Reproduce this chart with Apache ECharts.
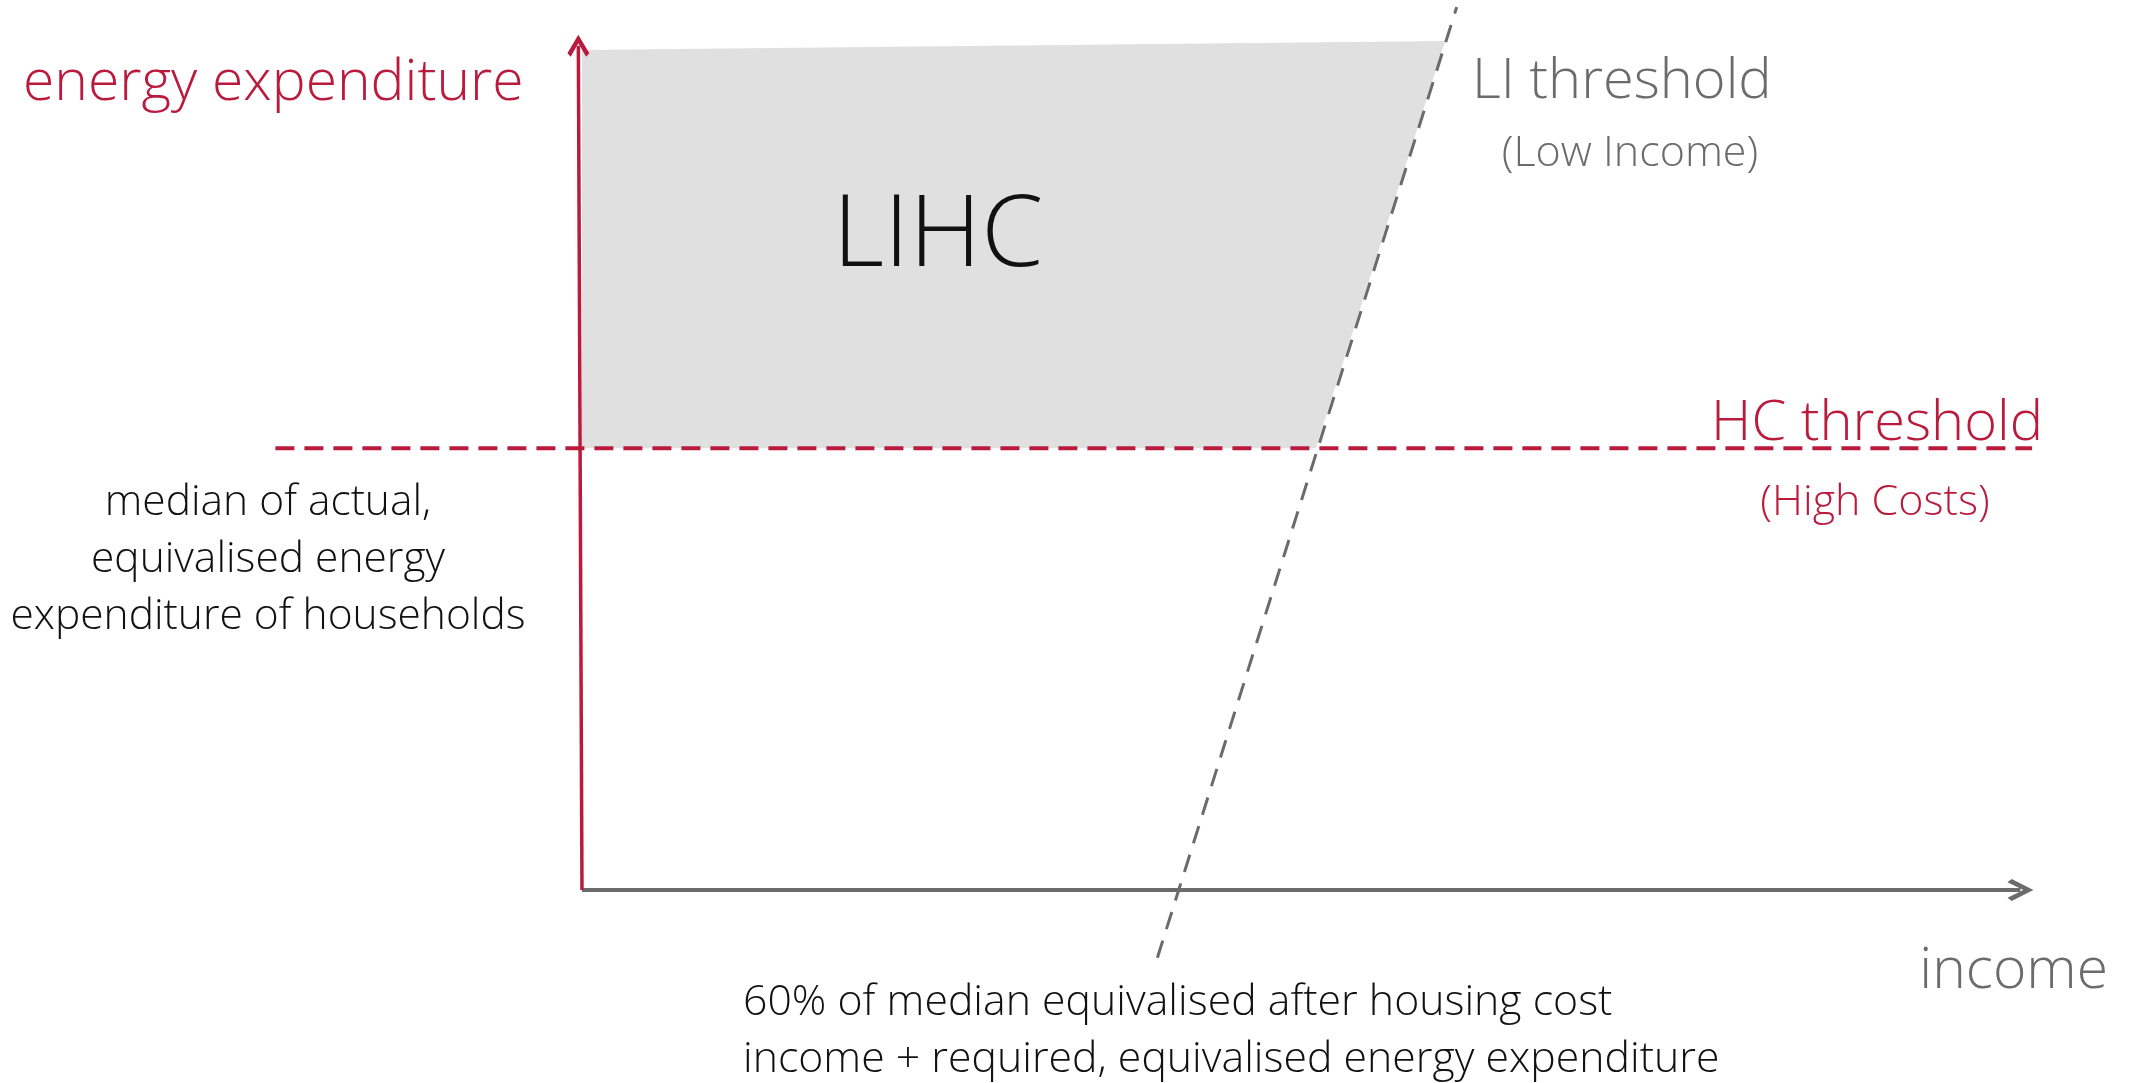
<!DOCTYPE html>
<html>
<head>
<meta charset="utf-8">
<script src="https://cdn.jsdelivr.net/npm/echarts@6/dist/echarts.min.js"></script>
<style>
  html, body { margin: 0; padding: 0; background: #fff; }
  #chart { width: 2131px; height: 1083px; }
</style>
</head>
<body>
<div id="chart"></div>
<script>
// axis ranges (schematic units, x = 0 is the expenditure axis)
const xRange = [-21.1, 100]
const yRange = [0, 100]

// drawn axes (end points sit at the centre of the arrow head)
const incomeAxis = [[0, 0], [99.0, 0]]
const expenditureAxis = [[0, 0], [-0.25, 98.4]]

// LIHC shaded region (income, energy expenditure)
const lihcArea = [[0, 97.9], [59.4, 98.95], [50.5, 51.5], [0, 51.5]]
// HC threshold: median of actual equivalised energy expenditure
const hcThreshold = [[-21.1, 51.5], [99.8, 51.5]]
// LI threshold line
const liThreshold = [[39.6, -7.9], [60.2, 102.9]]

const RED = '#BA1B3D'
const GREY = '#6b6b6b'
const FONT = '"Open Sans", "Noto Sans", sans-serif'

// open chevron pointing up, rotated by echarts along the line
const chevron = 'path://M5,0L10,8.4L8.5,10L5,3.9L1.5,10L0,8.4Z'

const chart = echarts.init(document.getElementById('chart'))

const txt = (text, x, y, size, color, align, extra) => ({
  type: 'text',
  x,
  y,
  z: 20,
  style: Object.assign({
    text,
    fill: color,
    fontSize: size,
    fontFamily: FONT,
    fontWeight: 300,
    align: align || 'left',
    verticalAlign: 'middle',
  }, extra || {}),
})

const axisSeries = (name, pts, color, width, size) => ({
  name,
  type: 'line',
  z: 10,
  clip: false,
  data: [],
  markLine: {
    silent: true,
    animation: false,
    symbol: ['none', chevron],
    symbolSize: size,
    label: { show: false },
    lineStyle: { color, width, type: 'solid', opacity: 1 },
    emphasis: { disabled: true },
    data: [[{ coord: pts[0] }, { coord: pts[1] }]],
  },
})

const hiddenAxis = {
  type: 'value',
  axisLine: { show: false },
  axisTick: { show: false },
  axisLabel: { show: false },
  splitLine: { show: false },
}

chart.setOption({
  animation: false,
  grid: { left: 275.4, right: 96, top: 32, bottom: 193 },
  xAxis: Object.assign({ min: xRange[0], max: xRange[1] }, hiddenAxis),
  yAxis: Object.assign({ min: yRange[0], max: yRange[1] }, hiddenAxis),
  series: [
    {
      name: 'LIHC',
      type: 'custom',
      z: 1,
      silent: true,
      data: [[0, 0]],
      renderItem: (params, api) => ({
        type: 'polygon',
        shape: { points: lihcArea.map((p) => api.coord(p)) },
        style: { fill: '#E0E0E0' },
      }),
    },
    {
      name: 'HC threshold',
      type: 'line',
      z: 3,
      clip: false,
      showSymbol: false,
      symbol: 'none',
      data: hcThreshold,
      lineStyle: { color: RED, width: 4, type: [19, 10] },
    },
    {
      name: 'LI threshold',
      type: 'line',
      z: 4,
      clip: false,
      showSymbol: false,
      symbol: 'none',
      data: liThreshold,
      lineStyle: { color: GREY, width: 3, type: [18, 12] },
    },
    axisSeries('income', incomeAxis, GREY, 4, [22, 26]),
    axisSeries('energy expenditure', expenditureAxis, RED, 3.5, [22, 22]),
  ],
  graphic: [
    txt('energy expenditure', 23, 84, 57, RED),
    txt('LIHC', 938, 238, 100, '#111', 'center'),
    txt('LI threshold', 1472, 82, 56, GREY),
    txt('(Low Income)', 1630, 154, 43, GREY, 'center'),
    txt('HC threshold', 2043, 424, 56, RED, 'right'),
    txt('(High Costs)', 1875, 503, 43, RED, 'center'),
    txt('median of actual,\nequivalised energy\nexpenditure of households', 268, 560, 42.5, '#111', 'center', { lineHeight: 57 }),
    txt('60% of median equivalised after housing cost\nincome + required, equivalised energy expenditure', 743, 1031, 42.8, '#111', 'left', { lineHeight: 57 }),
    txt('income', 2108, 972, 57, GREY, 'right'),
  ],
})
</script>
</body>
</html>
